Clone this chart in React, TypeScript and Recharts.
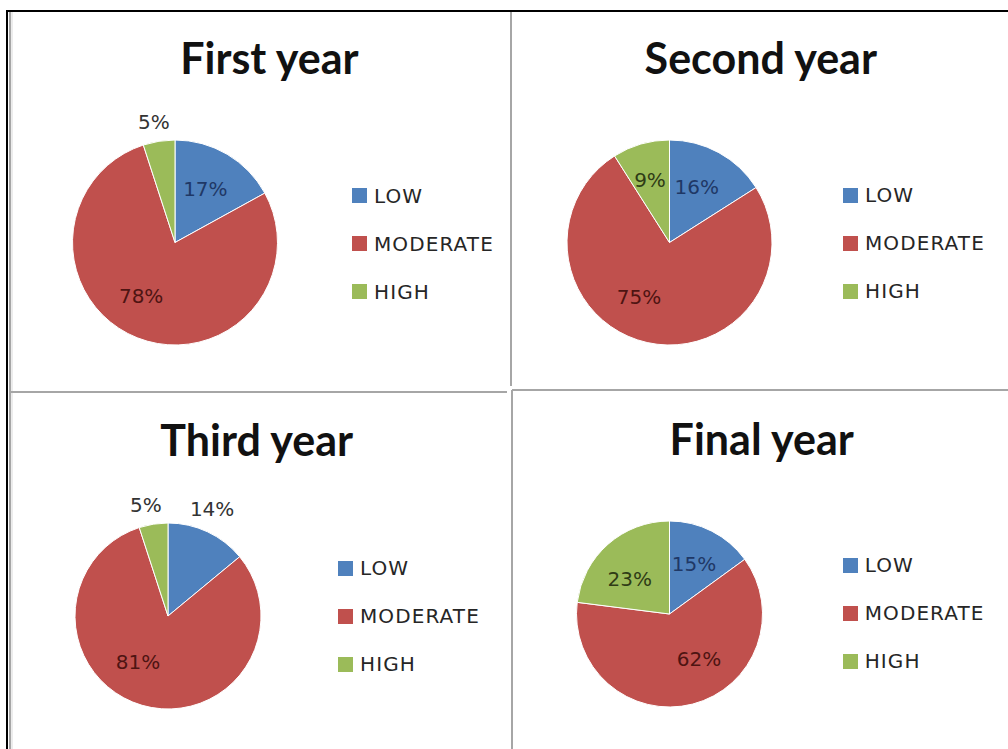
import { Cell, Legend, Pie, PieChart } from "recharts";

// Risk level shares (%) per study year
const CATEGORIES = ["LOW", "MODERATE", "HIGH"];
const FIRST_YEAR = [17, 78, 5];
const SECOND_YEAR = [16, 75, 9];
const THIRD_YEAR = [14, 81, 5];
const FINAL_YEAR = [15, 62, 23];
const TITLES = ["First year", "Second year", "Third year", "Final year"];

const COLORS = ["#4F81BD", "#C0504D", "#9BBB59"];
const INSIDE_INK = ["#1F3866", "#4E1412", "#2F3B16"];
const OUTSIDE_INK = "#333333";
const TEXT_FONT = "'DejaVu Sans', Verdana, sans-serif";
const TITLE_FONT = "Lato, 'Open Sans', sans-serif";

type Placement = { k: number; shift: number };

// where Excel's "best fit" put each data label: radius factor and clockwise shift from the slice middle
const PANELS = [
  {
    values: FIRST_YEAR, left: 10, top: 12, width: 500, height: 378,
    cx: 165, cy: 230.5, r: 102.5, titleX: 259.4, titleY: 62,
    legendLeft: 342, legendTop: 159.5,
    labels: [{ k: 0.6, shift: -1 }, { k: 0.62, shift: 10.6 }, { k: 1.19, shift: -1 }],
  },
  {
    values: SECOND_YEAR, left: 512, top: 12, width: 496, height: 378,
    cx: 157.5, cy: 230.5, r: 102.5, titleX: 248.8, titleY: 62,
    legendLeft: 331, legendTop: 159,
    labels: [{ k: 0.6, shift: -2.4 }, { k: 0.61, shift: 16.6 }, { k: 0.64, shift: -1.1 }],
  },
  {
    values: THIRD_YEAR, left: 10, top: 392, width: 500, height: 357,
    cx: 158, cy: 224, r: 93, titleX: 246.7, titleY: 64,
    legendLeft: 328, legendTop: 152.3,
    labels: [{ k: 1.24, shift: -2.7 }, { k: 0.59, shift: 17 }, { k: 1.22, shift: -2.2 }],
  },
  {
    values: FINAL_YEAR, left: 512, top: 390, width: 496, height: 359,
    cx: 157.5, cy: 224, r: 93, titleX: 249.7, titleY: 65,
    legendLeft: 330.7, legendTop: 151,
    labels: [{ k: 0.6, shift: -0.9 }, { k: 0.58, shift: -18.8 }, { k: 0.57, shift: -7.1 }],
  },
];

const RAD = Math.PI / 180;

function makeLabel(placements: Placement[]) {
  return (props: any) => {
    const { cx, cy, midAngle, outerRadius, index, value } = props;
    const p = placements[index];
    const angle = (midAngle - p.shift) * RAD;
    const x = cx + outerRadius * p.k * Math.cos(angle);
    const y = cy - outerRadius * p.k * Math.sin(angle);
    return (
      <text
        x={x}
        y={y}
        textAnchor="middle"
        dominantBaseline="central"
        fontFamily={TEXT_FONT}
        fontSize={20}
        fill={p.k > 1 ? OUTSIDE_INK : INSIDE_INK[index]}
      >
        {`${value}%`}
      </text>
    );
  };
}

function LegendBox() {
  return (
    <div>
      {CATEGORIES.map((name, i) => (
        <div
          key={name}
          style={{ display: "flex", alignItems: "center", height: 48 }}
        >
          <span
            style={{
              display: "inline-block",
              width: 15,
              height: 15,
              background: COLORS[i],
              marginRight: 7,
            }}
          />
          <span
            style={{
              fontFamily: TEXT_FONT,
              fontSize: 20,
              letterSpacing: 1.1,
              color: "#262626",
              whiteSpace: "nowrap",
            }}
          >
            {name}
          </span>
        </div>
      ))}
    </div>
  );
}

function YearPanel({ panel, title }: { panel: (typeof PANELS)[number]; title: string }) {
  const data = CATEGORIES.map((name, i) => ({ name, value: panel.values[i] }));
  return (
    <div
      style={{
        position: "absolute",
        left: panel.left,
        top: panel.top,
        width: panel.width,
        height: panel.height,
      }}
    >
      <svg
        width={panel.width}
        height={panel.height}
        style={{ position: "absolute", left: 0, top: 0 }}
      >
        <text
          x={panel.titleX}
          y={panel.titleY}
          textAnchor="middle"
          fontFamily={TITLE_FONT}
          fontWeight={700}
          fontSize={43}
          fill="#111"
        >
          {title}
        </text>
      </svg>
      <div style={{ position: "absolute", left: 0, top: 0 }}>
        <PieChart
          width={panel.width}
          height={panel.height}
          margin={{ top: 0, right: 0, bottom: 0, left: 0 }}
        >
          <Pie
            data={data}
            dataKey="value"
            nameKey="name"
            cx={panel.cx}
            cy={panel.cy}
            outerRadius={panel.r}
            startAngle={90}
            endAngle={-270}
            stroke="#ffffff"
            strokeWidth={1}
            label={makeLabel(panel.labels)}
            labelLine={false}
            isAnimationActive={false}
          >
            {data.map((entry, i) => (
              <Cell key={entry.name} fill={COLORS[i]} />
            ))}
          </Pie>
          <Legend
            layout="vertical"
            align="right"
            verticalAlign="middle"
            content={() => <LegendBox />}
            wrapperStyle={{
              left: panel.legendLeft,
              top: panel.legendTop,
              right: "auto",
              bottom: "auto",
              width: 160,
            }}
          />
        </PieChart>
      </div>
    </div>
  );
}

export default function App() {
  return (
    <div
      style={{
        position: "absolute",
        left: 0,
        top: 0,
        width: 1008,
        height: 749,
        background: "#ffffff",
        overflow: "hidden",
      }}
    >
      {PANELS.map((panel, i) => (
        <YearPanel key={TITLES[i]} panel={panel} title={TITLES[i]} />
      ))}
      <svg
        width={1008}
        height={749}
        style={{ position: "absolute", left: 0, top: 0, pointerEvents: "none" }}
      >
        {/* table frame */}
        <rect x={6} y={10} width={1002} height={2} fill="#000" />
        <rect x={6} y={10} width={2} height={739} fill="#000" />
        <rect x={9} y={12} width={2} height={737} fill="#a6a6a6" />
        <rect x={11} y={12} width={2} height={737} fill="#ececec" />
        <rect x={510} y={12} width={2} height={374} fill="#a6a6a6" />
        <rect x={511} y={390} width={2} height={359} fill="#a6a6a6" />
        <rect x={9} y={391} width={498} height={2} fill="#a6a6a6" />
        <rect x={512} y={389} width={496} height={2} fill="#a6a6a6" />
      </svg>
    </div>
  );
}
